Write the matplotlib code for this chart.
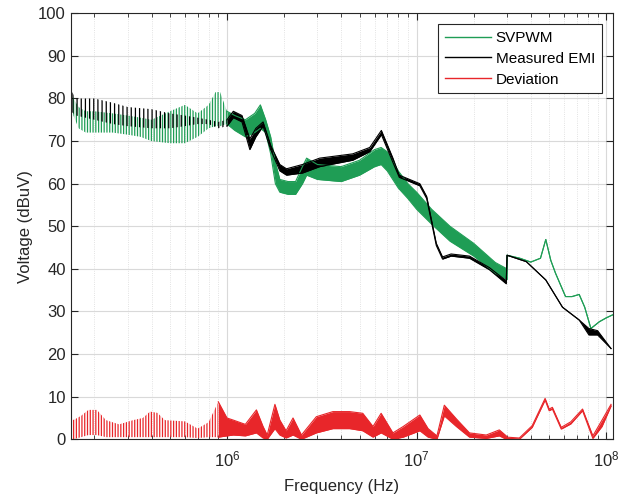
import numpy as np
import matplotlib
matplotlib.use("Agg")
import matplotlib.pyplot as plt
from matplotlib.lines import Line2D

plt.rcParams['font.family'] = ['Liberation Sans', 'DejaVu Sans']
plt.rcParams['hatch.linewidth'] = 0.9

# envelopes (freq in Hz, lower / upper edge in dBuV)
svpwm_f = [1.5e5, 1.55e5, 1.65e5, 1.8e5, 2.0e5, 2.5e5, 3.0e5, 3.5e5, 4.0e5, 5.0e5,
           6.0e5, 7.0e5, 8.0e5, 8.7e5, 9.2e5, 1.0e6, 1.1e6, 1.25e6, 1.4e6, 1.5e6,
           1.6e6, 1.7e6, 1.8e6, 1.9e6, 2.1e6, 2.3e6, 2.5e6, 2.63e6, 3.0e6, 4.0e6,
           5.0e6, 6.0e6, 6.5e6, 7.0e6, 8.0e6, 9.0e6, 1.0e7, 1.2e7, 1.5e7, 2.0e7,
           2.6e7, 3.0e7, 3.0e7, 3.5e7, 4.0e7, 4.5e7, 4.8e7, 5.1e7, 5.4e7, 6.1e7,
           6.6e7, 7.2e7, 7.7e7, 8.3e7, 9.2e7, 1.0e8, 1.08e8]
svpwm_lo = [80, 76, 73, 72, 72, 72, 71.5, 71, 70, 69.5,
            69.5, 71, 73, 73.5, 73.5, 74, 72.5, 71, 72, 73,
            72, 67, 60, 58, 57.5, 57.5, 60, 62, 61, 60.5,
            62, 64, 64.5, 63, 59, 56.5, 54, 50.5, 46.5, 43,
            39, 37.5, 43.2, 42.5, 41.6, 42.5, 46.9, 42, 39, 33.5,
            33.5, 34, 31, 26, 27.6, 28.5, 29.2]
svpwm_hi = [84.5, 80, 78, 77, 77, 76.5, 76, 75.5, 75, 77,
            78.5, 76.5, 78.5, 81.5, 81.5, 77, 76, 75, 76.5, 78.5,
            75, 71, 65, 61, 60.5, 60.5, 64, 66, 64.5, 64,
            65.5, 68, 68.5, 67.5, 63, 60, 58, 54, 50, 46,
            41.5, 40, 43.2, 42.5, 41.6, 42.5, 46.9, 42, 39, 33.5,
            33.5, 34, 31, 26, 27.6, 28.5, 29.2]

emi_f = [1.5e5, 1.6e5, 2.0e5, 2.5e5, 3.0e5, 4.0e5, 5.0e5, 6.0e5, 7.0e5, 8.0e5,
         9.0e5, 1.0e6, 1.08e6, 1.2e6, 1.32e6, 1.42e6, 1.55e6, 1.7e6, 1.9e6, 2.06e6,
         2.5e6, 3.08e6, 4.6e6, 5.66e6, 6.52e6, 7.5e6, 8.1e6, 1.04e7, 1.13e7, 1.27e7,
         1.37e7, 1.52e7, 1.9e7, 2.42e7, 2.97e7, 3.0e7, 3.79e7, 4.8e7, 5.88e7, 7.2e7,
         8.1e7, 9.0e7, 1.06e8]
emi_lo = [77, 76, 75, 74, 73.5, 73, 73, 73.5, 74, 74,
          73, 73.5, 75.5, 74.5, 68, 71, 73.5, 68, 63, 62,
          62.5, 64, 65.5, 67.5, 71.5, 65, 61.5, 59.5, 56.5, 45.5,
          42.3, 43, 42.5, 39.8, 36.5, 43.2, 41.7, 37.4, 31, 28,
          24.5, 24.5, 21.3]
emi_hi = [82, 80, 80, 79, 78, 77.5, 76.5, 76, 75.5, 75,
          74.5, 75, 77, 76, 70.5, 73, 74.5, 69, 64.5, 63.5,
          64.5, 66, 67, 68.5, 72.5, 66, 62, 60, 57, 46,
          42.8, 43.5, 43, 40.3, 37.2, 43.2, 41.7, 37.4, 31, 28,
          26, 25.5, 21.3]

dev_f = [1.5e5, 1.55e5, 1.7e5, 1.86e5, 2.06e5, 2.3e5, 2.7e5, 3.2e5, 3.6e5, 3.93e5,
         4.3e5, 4.7e5, 6.0e5, 7.0e5, 8.0e5, 9.0e5, 1.0e6, 1.08e6, 1.25e6, 1.43e6,
         1.55e6, 1.63e6, 1.79e6, 1.9e6, 2.05e6, 2.23e6, 2.47e6, 2.96e6, 3.62e6, 4.43e6,
         5.2e6, 5.89e6, 6.5e6, 7.5e6, 8.5e6, 1.04e7, 1.15e7, 1.28e7, 1.4e7, 1.62e7,
         1.9e7, 2.33e7, 2.73e7, 2.97e7, 3.0e7, 3.48e7, 4.07e7, 4.76e7, 5.0e7, 5.2e7,
         5.79e7, 6.5e7, 7.5e7, 8.5e7, 9.5e7, 1.06e8]
dev_lo = [0, 0, 0.5, 1, 1, 0.5, 0.5, 0.5, 0.5, 0.5,
          0.5, 0.5, 0.5, 0.3, 0.5, 0.5, 0.8, 1, 0.8, 1.5,
          0.3, 0, 2.5, 1, 0.3, 1, 0, 1.5, 2.5, 2.5,
          2, 0.5, 1.5, 0, 0.5, 2, 0.5, 0, 5.5, 3,
          0.5, 0.2, 0.8, 0, 0.1, 0, 2.8, 9.2, 6.7, 7.1,
          2.4, 3.6, 6.7, 0.2, 3, 7.8]
dev_hi = [6, 4.5, 5.5, 6.9, 6.9, 4.5, 3.5, 4.5, 5, 6.5,
          6.2, 4.5, 4.2, 2.5, 4, 8.8, 5, 4.5, 3.5, 6.9,
          3, 1, 8.2, 4.5, 2, 5, 1, 5.3, 6.5, 6.5,
          6.1, 3, 6.1, 1.5, 3, 5.7, 2.5, 0.8, 8, 4.8,
          1.5, 1, 2.2, 0.8, 0.5, 0.3, 3.2, 9.6, 7.1, 7.5,
          2.8, 4.1, 7.1, 0.8, 4.5, 8.2]

green = '#1f9d55'
red = '#e8262a'

# below this frequency the ripple is resolved -> striped, above it is a solid band
split = {'svpwm': 1.0e6, 'emi': 1.0e6, 'dev': 9.0e5}
stripes = {'svpwm': '||||||', 'emi': '||||', 'dev': '||||||'}

fig = plt.figure(figsize=(6.27, 4.98), dpi=100)
ax = fig.add_axes([0.1128, 0.1179, 0.8642, 0.8554])

for key, f, lo, hi, c in [('svpwm', svpwm_f, svpwm_lo, svpwm_hi, green),
                          ('emi', emi_f, emi_lo, emi_hi, 'black'),
                          ('dev', dev_f, dev_lo, dev_hi, red)]:
    f = np.array(f)
    lo = np.array(lo)
    hi = np.array(hi)
    ax.fill_between(f, lo, hi, where=f <= split[key], facecolor='none',
                    edgecolor=c, hatch=stripes[key], lw=0)
    ax.fill_between(f, lo, hi, where=f >= split[key], color=c, lw=0)
    m = f >= split[key]
    ax.plot(f[m], lo[m], color=c, lw=0.8)
    ax.plot(f[m], hi[m], color=c, lw=0.8)

ax.set_xscale('log')
ax.set_xlim(1.5e5, 1.08e8)
ax.set_ylim(0, 100)
ax.set_yticks(range(0, 101, 10))
ax.grid(True, which='major', color='#d9d9d9', lw=0.8)
ax.grid(True, which='minor', axis='x', color='#d9d9d9', lw=0.6, ls=':')
ax.set_axisbelow(True)
ax.tick_params(which='both', direction='in', top=True, right=True, labelsize=12,
               colors='#262626')
ax.tick_params(which='major', length=5)
ax.tick_params(which='minor', length=3)
ax.tick_params(axis='x', which='major', pad=7)
for s in ax.spines.values():
    s.set_color('#262626')
    s.set_linewidth(0.8)

ax.set_xlabel('Frequency (Hz)', fontsize=12, color='#262626', labelpad=7)
ax.set_ylabel('Voltage (dBuV)', fontsize=12, color='#262626')

handles = [Line2D([], [], color=green, lw=1),
           Line2D([], [], color='black', lw=1),
           Line2D([], [], color=red, lw=1)]
leg = ax.legend(handles, ['SVPWM', 'Measured EMI', 'Deviation'], loc='upper right',
                fontsize=11, fancybox=False, edgecolor='#262626', framealpha=1,
                handlelength=3.0, borderaxespad=0.7, labelspacing=0.45,
                borderpad=0.45, handletextpad=0.3)
leg.get_frame().set_linewidth(0.8)

fig.savefig('out.png', dpi=100)
